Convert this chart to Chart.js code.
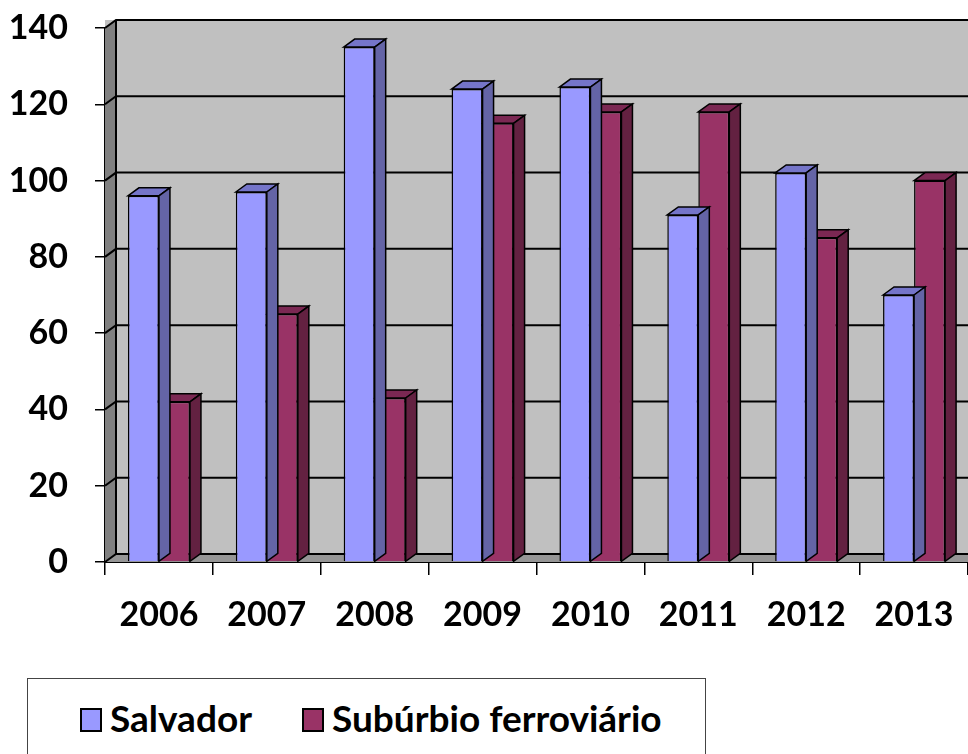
<!DOCTYPE html>
<html>
<head>
<meta charset="utf-8">
<script src="https://cdn.jsdelivr.net/npm/chart.js@4"></script>
<style>
  html, body { margin: 0; padding: 0; background: #fff; }
  #wrap { position: relative; width: 968px; height: 754px; overflow: hidden; }
  #legend {
    position: absolute; left: 27px; top: 678px; width: 677px; height: 90px;
    border: 1px solid #444; background: #fff;
    font-family: Lato, sans-serif; font-weight: bold; font-size: 37px; color: #000;
  }
  #legend span.item { position: absolute; top: 16px; white-space: nowrap; }
  #legend span.box {
    display: inline-block; width: 18px; height: 20px; border: 2px solid #000;
    vertical-align: 0px; margin-right: 8px;
  }
</style>
</head>
<body>
<div id="wrap">
  <canvas id="chart" width="968" height="754"></canvas>
  <div id="legend"></div>
</div>
<script>
const years = ['2006', '2007', '2008', '2009', '2010', '2011', '2012', '2013'];
const salvador = [96, 97, 135, 124, 124.5, 91, 102, 70];
const suburbio = [42, 65, 43, 115, 118, 118, 85, 100];
const seriesNames = ['Salvador', 'Subúrbio ferroviário'];

// depth of the fake 3D effect
const DX = 11, DY = -8;

const shades = [
  { front: '#9999FF', top: '#7575C9', side: '#6464A6' },
  { front: '#993366', top: '#7B2853', side: '#632141' }
];

const wallPlugin = {
  id: 'wall',
  beforeDatasetsDraw(chart) {
    const { ctx, chartArea: a, scales: { y } } = chart;
    ctx.save();
    // back wall + front region
    ctx.fillStyle = '#C0C0C0';
    ctx.fillRect(a.left, a.top + DY, a.right - a.left + DX, a.bottom - a.top);
    // left side wall
    ctx.fillStyle = '#808080';
    ctx.beginPath();
    ctx.moveTo(a.left, a.top);
    ctx.lineTo(a.left + DX, a.top + DY);
    ctx.lineTo(a.left + DX, a.bottom + DY);
    ctx.lineTo(a.left, a.bottom);
    ctx.closePath();
    ctx.fill();
    // floor
    ctx.fillStyle = '#969696';
    ctx.beginPath();
    ctx.moveTo(a.left, a.bottom);
    ctx.lineTo(a.left + DX, a.bottom + DY);
    ctx.lineTo(a.right + DX, a.bottom + DY);
    ctx.lineTo(a.right, a.bottom);
    ctx.closePath();
    ctx.fill();
    // gridlines on back wall and side wall
    ctx.strokeStyle = '#000';
    ctx.lineWidth = 2;
    y.ticks.forEach(t => {
      const py = y.getPixelForValue(t.value);
      ctx.beginPath();
      ctx.moveTo(a.left, py);
      ctx.lineTo(a.left + DX, py + DY);
      ctx.lineTo(a.right + DX, py + DY);
      ctx.stroke();
    });
    ctx.beginPath();
    ctx.moveTo(a.left + DX, a.top + DY);
    ctx.lineTo(a.left + DX, a.bottom + DY);
    ctx.stroke();
    ctx.restore();
  },
  afterDatasetDraw(chart, args) {
    const { ctx } = chart;
    const c = shades[args.index];
    ctx.save();
    ctx.strokeStyle = '#000';
    ctx.lineWidth = 1.5;
    args.meta.data.forEach(bar => {
      const p = bar.getProps(['x', 'y', 'base', 'width'], true);
      const l = p.x - p.width / 2, r = p.x + p.width / 2;
      ctx.fillStyle = c.top;
      ctx.beginPath();
      ctx.moveTo(l, p.y);
      ctx.lineTo(l + DX, p.y + DY);
      ctx.lineTo(r + DX, p.y + DY);
      ctx.lineTo(r, p.y);
      ctx.closePath();
      ctx.fill();
      ctx.stroke();
      ctx.fillStyle = c.side;
      ctx.beginPath();
      ctx.moveTo(r, p.y);
      ctx.lineTo(r + DX, p.y + DY);
      ctx.lineTo(r + DX, p.base + DY);
      ctx.lineTo(r, p.base);
      ctx.closePath();
      ctx.fill();
      ctx.stroke();
    });
    ctx.restore();
  }
};

const ctx = document.getElementById('chart').getContext('2d');
const chart = new Chart(ctx, {
  type: 'bar',
  data: {
    labels: years,
    datasets: [
      {
        label: seriesNames[0],
        data: salvador,
        backgroundColor: shades[0].front,
        borderColor: '#000',
        borderWidth: 1.5
      },
      {
        label: seriesNames[1],
        data: suburbio,
        backgroundColor: shades[1].front,
        borderColor: '#000',
        borderWidth: 1.5
      }
    ]
  },
  options: {
    responsive: false,
    animation: false,
    layout: { padding: { top: 28, right: 0, bottom: 0, left: 0 } },
    plugins: {
      legend: { display: false },
      tooltip: { enabled: false }
    },
    datasets: {
      bar: { barPercentage: 1, categoryPercentage: 0.575 }
    },
    scales: {
      x: {
        afterFit(scale) {
          scale.height = 192;
          scale.paddingLeft = 0;
          scale.paddingRight = 0;
        },
        grid: { drawOnChartArea: false, drawTicks: true, tickLength: 13, color: '#000', lineWidth: 1.5 },
        border: { display: true, color: '#000', width: 2 },
        ticks: {
          color: '#000',
          padding: 20,
          font: { family: 'Lato', weight: 'bold', size: 34 }
        }
      },
      y: {
        min: 0,
        max: 140,
        afterFit(scale) {
          scale.width = 105;
          scale.paddingTop = 0;
          scale.paddingBottom = 0;
        },
        grid: { drawOnChartArea: false, drawTicks: true, tickLength: 10, color: '#000', lineWidth: 1.5 },
        border: { display: true, color: '#000', width: 2 },
        ticks: {
          stepSize: 20,
          color: '#000',
          padding: 27,
          font: { family: 'Lato', weight: 'bold', size: 34 }
        }
      }
    }
  },
  plugins: [wallPlugin]
});

// legend built from the datasets
const legend = document.getElementById('legend');
const legendX = [52, 274];
chart.data.datasets.forEach((ds, i) => {
  const item = document.createElement('span');
  item.className = 'item';
  item.style.left = legendX[i] + 'px';
  const box = document.createElement('span');
  box.className = 'box';
  box.style.background = ds.backgroundColor;
  item.appendChild(box);
  item.appendChild(document.createTextNode(ds.label));
  legend.appendChild(item);
});
</script>
</body>
</html>
